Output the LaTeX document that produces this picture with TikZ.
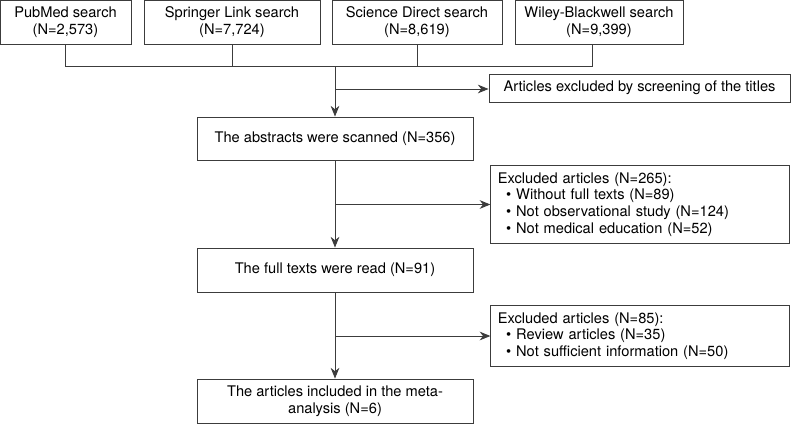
\documentclass[tikz,border=0pt]{standalone}
\usepackage{fontspec}
\setmainfont{TeX Gyre Heros}
\usetikzlibrary{arrows.meta}
\usetikzlibrary{positioning}
\usetikzlibrary{calc}
\definecolor{LineGray}{RGB}{60,60,60}

\begin{document}
\begin{tikzpicture}[
    font=\fontsize{12.5}{14.2}\selectfont,
    srcbox/.style={draw=LineGray, line width=0.8pt, minimum height=1.32cm, align=center, inner sep=0pt},
    stagebox/.style={draw=LineGray, line width=0.8pt, minimum width=8.28cm, minimum height=1.32cm, align=center, inner sep=0pt},
    exclbox/.style={draw=LineGray, line width=0.8pt, minimum width=8.97cm, text width=8.55cm, align=left, inner sep=0.21cm},
    link/.style={draw=LineGray, line width=0.8pt},
    arr/.style={link, -{Stealth[length=0.32cm, width=0.26cm, inset=0.1cm]}}
  ]
  \def \MainX {10.05}
  \def \ExclX {19.21}
  \useasboundingbox (0,0) rectangle (23.73,-12.72);

  % database searches
  \node[srcbox, minimum width=3.93cm] (pub) at (1.965,-0.66) {PubMed search\\(N=2,573)};
  \node[srcbox, minimum width=5.28cm] (spr) at (6.96,-0.66) {Springer Link search\\(N=7,724)};
  \node[srcbox, minimum width=5.10cm] (sci) at (12.51,-0.66) {Science Direct search\\(N=8,619)};
  \node[srcbox, minimum width=5.04cm] (wil) at (17.97,-0.66) {Wiley-Blackwell search\\(N=9,399)};

  \coordinate (join) at (\MainX,-1.98);
  \coordinate (wildrop) at ([xshift=-0.21cm]wil.south);

  % screening stages
  \node[stagebox, minimum height=1.29cm] (abs) at (\MainX,-4.155) {The abstracts were scanned (N=356)};
  \node[stagebox] (full) at (\MainX,-8.10) {The full texts were read (N=91)};
  \node[stagebox] (incl) at (\MainX,-12.03) {The articles included in the meta-\\analysis (N=6)};

  % exclusions
  \node[draw=LineGray, line width=0.8pt, minimum width=9.03cm, minimum height=0.84cm, inner sep=0pt] (titles) at (19.185,-2.64) {Articles excluded by screening of the titles};
  \node[exclbox, minimum height=2.31cm] (ex1) at (\ExclX,-6.135) {Excluded articles (N=265):\\
    \hspace{0.25cm}\textbullet\ Without full texts (N=89)\\
    \hspace{0.25cm}\textbullet\ Not observational study (N=124)\\
    \hspace{0.25cm}\textbullet\ Not medical education (N=52)};
  \node[exclbox, minimum height=1.80cm] (ex2) at (\ExclX,-10.08) {Excluded articles (N=85):\\
    \hspace{0.25cm}\textbullet\ Review articles (N=35)\\
    \hspace{0.25cm}\textbullet\ Not sufficient information (N=50)};

  % collector lines
  \draw[link] (pub.south) -- (pub.south |- join) -- (wildrop |- join) -- (wildrop);
  \draw[link] (spr.south) -- (spr.south |- join);
  \draw[link] (sci.south) -- (sci.south |- join);

  % main flow
  \draw[arr] (join) -- (abs.north);
  \draw[arr] (join |- 0,-2.67) -- (titles.west |- 0,-2.67);
  \draw[arr] (abs.south) -- (full.north);
  \draw[arr] (abs.south |- ex1.west) -- (ex1.west);
  \draw[arr] (full.south) -- (incl.north);
  \draw[arr] (full.south |- ex2.west) -- (ex2.west);
\end{tikzpicture}
\end{document}
